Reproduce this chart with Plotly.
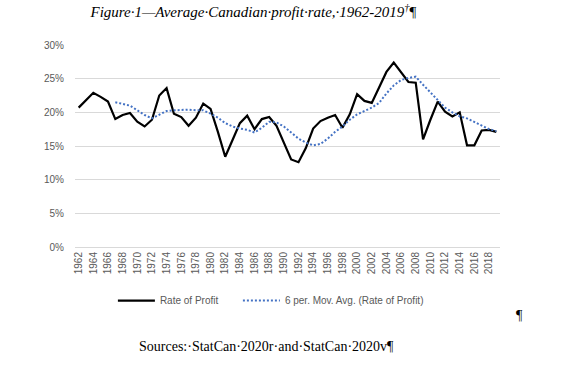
import plotly.graph_objects as go

years = list(range(1962, 2020))

rate_of_profit = [
    20.7, 21.8, 22.9, 22.3, 21.6, 19.0, 19.6, 19.9, 18.6, 17.9,
    18.9, 22.5, 23.6, 19.8, 19.3, 18.0, 19.2, 21.3, 20.5, 17.1,
    13.4, 15.9, 18.4, 19.5, 17.5, 19.0, 19.3, 18.0, 15.4, 13.0,
    12.6, 14.7, 17.6, 18.7, 19.2, 19.6, 17.7, 19.7, 22.7, 21.7,
    21.4, 23.8, 26.0, 27.4, 26.0, 24.5, 24.4, 16.0, 18.9, 21.6,
    20.1, 19.4, 20.0, 15.1, 15.1, 17.3, 17.4, 17.1,
]

ma_years = list(range(1967, 2020))
moving_avg = [
    21.5, 21.3, 21.0, 20.3, 19.6, 19.1, 19.7, 20.2, 20.3, 20.4,
    20.4, 20.3, 20.3, 19.8, 19.2, 18.4, 17.9, 17.6, 17.4, 17.0,
    17.7, 18.6, 18.5, 17.9, 17.0, 16.1, 15.5, 15.1, 15.3, 16.1,
    17.1, 17.9, 18.9, 19.7, 20.2, 20.7, 21.4, 22.8, 24.0, 24.8,
    25.1, 25.3, 24.1, 23.0, 21.8, 20.7, 20.0, 19.4, 19.1, 18.6,
    18.1, 17.5, 17.2,
]

y_ticks = [0, 5, 10, 15, 20, 25, 30]
x_ticks = list(range(1962, 2019, 2))

title_text = "<i>Figure·1—Average·Canadian·profit·rate,·1962-2019<sup>†</sup></i>¶"
source_text = "Sources:·StatCan·2020r·and·StatCan·2020v¶"

fig = go.Figure()
fig.add_trace(go.Scatter(
    x=years, y=[v / 100 for v in rate_of_profit], mode="lines",
    name="Rate of Profit", legend="legend", line=dict(color="#000000", width=2.2),
))
fig.add_trace(go.Scatter(
    x=ma_years, y=[v / 100 for v in moving_avg], mode="lines",
    name="6 per. Mov. Avg. (Rate of Profit)", legend="legend2",
    line=dict(color="#4472C4", width=2, dash="2px,2px"),
))

legend_common = dict(orientation="h", xanchor="left", y=-0.265, yanchor="middle",
                     font=dict(family="Liberation Sans", size=10, color="#595959"),
                     itemwidth=37, bgcolor="rgba(0,0,0,0)")

fig.update_layout(
    width=576, height=365,
    margin=dict(l=75, r=76, t=45, b=118),
    paper_bgcolor="white", plot_bgcolor="white",
    font=dict(family="Liberation Sans", size=10, color="#595959"),
    title=dict(text=title_text, x=0.44, xanchor="center", y=0.968, yanchor="middle",
               font=dict(family="Liberation Serif", size=15, color="#000000")),
    showlegend=True,
    legend=dict(x=(118 - 75) / 425 - 0.012, **legend_common),
    legend2=dict(x=(243 - 75) / 425 - 0.012, **legend_common),
    xaxis=dict(range=[1961.5, 2019.5], tickmode="array", tickvals=x_ticks,
               ticktext=[str(t) for t in x_ticks], tickangle=-90,
               showgrid=False, zeroline=False, showline=True, linecolor="#d9d9d9",
               linewidth=1, ticks="", tickfont=dict(size=10, color="#595959")),
    yaxis=dict(range=[0, 0.30], tickmode="array", tickvals=[t / 100 for t in y_ticks],
               ticktext=[f"{t}%" for t in y_ticks], showgrid=True, gridcolor="#d9d9d9",
               gridwidth=1, zeroline=False, showline=False, ticks="", ticklabelstandoff=10,
               tickfont=dict(size=10, color="#595959")),
)

fig.add_annotation(text="¶", xref="paper", yref="paper", x=(519 - 75) / 425,
                   y=(247 - 315) / 202, showarrow=False, xanchor="center", yanchor="middle",
                   font=dict(family="Liberation Serif", size=14, color="#000000"))
fig.add_annotation(text=source_text, xref="paper", yref="paper", x=(137 - 75) / 425,
                   y=(247 - 346) / 202, showarrow=False, xanchor="left", yanchor="middle",
                   font=dict(family="Liberation Serif", size=14, color="#000000"))

fig.write_html("out.html", config={"displayModeBar": False},
               post_script="document.body.style.margin='0';")
